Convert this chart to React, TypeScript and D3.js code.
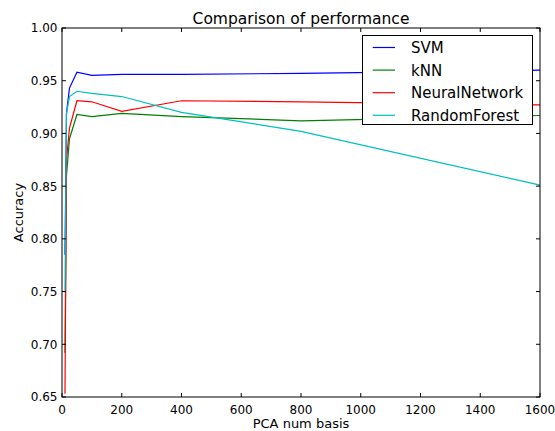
import * as d3 from "d3";

// PCA basis sizes and accuracy per classifier
const basis = [10, 15, 25, 50, 100, 200, 400, 800, 1600];
const svm = [0.785, 0.919, 0.943, 0.958, 0.955, 0.956, 0.956, 0.957, 0.96];
const knn = [0.692, 0.86, 0.895, 0.918, 0.916, 0.919, 0.916, 0.912, 0.917];
const neural = [0.653, 0.875, 0.905, 0.931, 0.93, 0.921, 0.931, 0.93, 0.927];
const forest = [0.751, 0.919, 0.935, 0.94, 0.938, 0.935, 0.92, 0.902, 0.851];

const seriesNames = ["SVM", "kNN", "NeuralNetwork", "RandomForest"];
const seriesValues = [svm, knn, neural, forest];
const colors = ["#0000ff", "#008000", "#ff0000", "#00bfbf"];

const xTicks = [0, 200, 400, 600, 800, 1000, 1200, 1400, 1600];
const yTicks = [0.65, 0.7, 0.75, 0.8, 0.85, 0.9, 0.95, 1.0];

export default function App() {
  const width = 555,
    height = 431;
  const left = 62,
    right = 540,
    top = 28,
    bottom = 397;
  const tickLen = 4;
  const font = "DejaVu Sans, sans-serif";

  const xScale = d3.scaleLinear().domain([0, 1600]).range([left, right]);
  const yScale = d3.scaleLinear().domain([0.65, 1.0]).range([bottom, top]);

  const line = d3
    .line<number>()
    .x((d, i) => xScale(basis[i]))
    .y((d) => yScale(d));

  const legendX = 362.5,
    legendY = 35.5,
    legendW = 170,
    legendH = 89,
    rowStep = 22.6;

  return (
    <svg
      width={width}
      height={height}
      style={{ position: "absolute", left: 0, top: 0, background: "white" }}
      fontFamily={font}
    >
      <rect x={0} y={0} width={width} height={height} fill="white" />
      <text x={(left + right) / 2} y={23.5} textAnchor="middle" fontSize={15.5}>
        Comparison of performance
      </text>

      {seriesValues.map((vals, i) => (
        <path
          key={seriesNames[i]}
          d={line(vals) ?? ""}
          fill="none"
          stroke={colors[i]}
          strokeWidth={1.2}
        />
      ))}

      {/* ticks, inward on all four sides */}
      {xTicks.map((t) => (
        <g key={"x" + t}>
          <line x1={xScale(t)} x2={xScale(t)} y1={bottom} y2={bottom - tickLen} stroke="black" />
          <line x1={xScale(t)} x2={xScale(t)} y1={top} y2={top + tickLen} stroke="black" />
          <text x={xScale(t)} y={414} textAnchor="middle" fontSize={12}>
            {t}
          </text>
        </g>
      ))}
      {yTicks.map((t) => (
        <g key={"y" + t}>
          <line x1={left} x2={left + tickLen} y1={yScale(t)} y2={yScale(t)} stroke="black" />
          <line x1={right} x2={right - tickLen} y1={yScale(t)} y2={yScale(t)} stroke="black" />
          <text x={57.5} y={yScale(t) + 4.4} textAnchor="end" fontSize={12}>
            {t.toFixed(2)}
          </text>
        </g>
      ))}

      <rect
        x={left}
        y={top}
        width={right - left}
        height={bottom - top}
        fill="none"
        stroke="black"
        strokeWidth={1}
      />

      <text x={(left + right) / 2} y={427.5} textAnchor="middle" fontSize={13}>
        PCA num basis
      </text>
      <text
        transform={`translate(23 ${(top + bottom) / 2}) rotate(-90)`}
        textAnchor="middle"
        fontSize={13}
      >
        Accuracy
      </text>

      <g>
        <rect
          x={legendX}
          y={legendY}
          width={legendW}
          height={legendH}
          fill="white"
          stroke="black"
          strokeWidth={1}
        />
        {seriesNames.map((name, i) => {
          const cy = 47.5 + i * rowStep;
          return (
            <g key={name}>
              <line x1={372.7} x2={395} y1={cy} y2={cy} stroke={colors[i]} strokeWidth={1.2} />
              <text x={411} y={cy + 5.5} fontSize={15}>
                {name}
              </text>
            </g>
          );
        })}
      </g>
    </svg>
  );
}
